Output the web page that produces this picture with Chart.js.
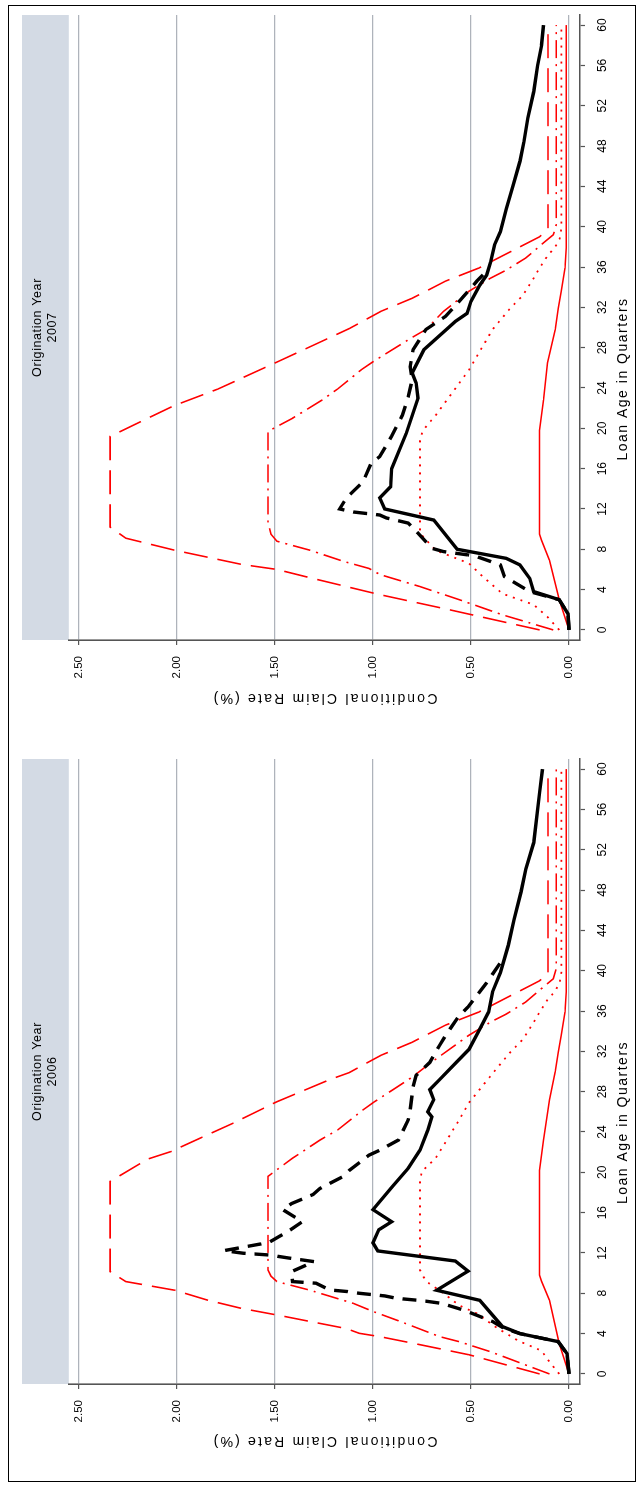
<!DOCTYPE html>
<html>
<head>
<meta charset="utf-8">
<script src="https://cdn.jsdelivr.net/npm/chart.js@4.4.1/dist/chart.umd.min.js"></script>
<style>
  html, body { margin: 0; padding: 0; background: #fff; }
  body { width: 644px; height: 1486px; overflow: hidden; position: relative; }
  #page {
    position: absolute; left: 0; top: 0;
    width: 1486px; height: 644px;
    transform-origin: 0 0;
    transform: translate(0px, 1486px) rotate(-90deg);
  }
  #frame {
    position: absolute; left: 4px; top: 8px; width: 1477px; height: 628px;
    border: 1.5px solid #000; box-sizing: border-box;
  }
  canvas { position: absolute; top: 0; }
</style>
</head>
<body>
<div id="page">
  <div id="frame"></div>
  <canvas id="chart2006" width="743" height="644" style="left:0px"></canvas>
  <canvas id="chart2007" width="743" height="644" style="left:743px"></canvas>
</div>
<script>
// loan age ticks (quarters) and claim-rate ticks (%)
const xTicks = [0, 4, 8, 12, 16, 20, 24, 28, 32, 36, 40, 44, 48, 52, 56, 60];
const yTicks = [0, 0.5, 1.0, 1.5, 2.0, 2.5];

// ---- Origination year 2006: [loan age, claim rate] ----
const actual2006 = [[0,0],[2,0.01],[3.2,0.055],[4,0.25],[4.5,0.33],[5.2,0.39],[6.35,0.54],[7,0.65],[7.27,0.75],[7.5,0.88],[7.74,0.94],[8,1.07],[8.17,1.13],[8.33,1.22],[9,1.29],[9.16,1.41],[10.15,1.415],[11.14,1.30],[11.5,1.43],[11.8,1.53],[11.97,1.66],[12.23,1.76],[12.9,1.57],[13.1,1.525],[14.3,1.42],[15.1,1.36],[16.3,1.46],[16.9,1.415],[17.8,1.305],[18.4,1.27],[19.6,1.15],[20.2,1.12],[21.7,1.02],[22.2,0.965],[23.2,0.87],[25.2,0.82],[26.2,0.81],[28.5,0.795],[29.6,0.78],[30.9,0.71],[32.6,0.66],[33.7,0.625],[35.4,0.565],[36.4,0.515],[38.8,0.42],[40.8,0.35]];
const base2006 = [[0,0],[2,0.01],[3.2,0.055],[4,0.25],[4.7,0.34],[7.3,0.455],[8.3,0.675],[10.2,0.515],[11.2,0.58],[12.2,0.975],[13,1.0],[14.3,0.97],[15.1,0.905],[16.3,1.0],[18.6,0.90],[20.4,0.82],[22.2,0.76],[24.2,0.72],[25.5,0.70],[26,0.72],[27.2,0.69],[28.2,0.71],[29.2,0.66],[30.9,0.575],[32.2,0.51],[34.2,0.455],[35.9,0.41],[37.9,0.39],[39.8,0.35],[42.5,0.31],[45.1,0.28],[47.8,0.245],[50.1,0.22],[52.7,0.18],[57.7,0.15],[60,0.135]];
const severe2006 = [[0,0.15],[1.9,0.51],[3.04,0.795],[3.7,0.965],[4.03,1.07],[4.5,1.135],[5.2,1.32],[5.85,1.49],[6.5,1.67],[7.3,1.84],[8.3,2.01],[9.16,2.26],[10.15,2.34],[19.1,2.34],[20.6,2.21],[21.3,2.15],[22.06,2.03],[23.4,1.88],[24.9,1.71],[27,1.49],[29.2,1.22],[29.9,1.12],[31.6,0.96],[32.9,0.80],[34.6,0.63],[35.9,0.46],[37.5,0.30],[39,0.15],[39.8,0.107],[60,0.107]];
const adverse2006 = [[0,0.1],[2.2,0.40],[3.2,0.56],[3.7,0.66],[5.2,0.86],[6.2,1.0],[7,1.1],[8.3,1.32],[9.16,1.49],[9.7,1.52],[10.3,1.535],[19.6,1.535],[21.4,1.41],[23.2,1.27],[24.2,1.18],[26.2,1.05],[26.9,1.0],[29.5,0.795],[30.8,0.71],[33.6,0.51],[34.9,0.40],[35.7,0.32],[36.9,0.22],[38.4,0.13],[39.2,0.08],[40.2,0.065],[60,0.065]];
const mild2006 = [[0,0.05],[1.2,0.1],[2.3,0.14],[3.3,0.26],[4.6,0.37],[6,0.47],[6.8,0.56],[8,0.64],[9.2,0.73],[10.3,0.76],[19.2,0.76],[20.1,0.75],[21.4,0.68],[25.2,0.56],[26.9,0.51],[29.8,0.39],[31.9,0.30],[33.2,0.235],[34.9,0.18],[35.9,0.15],[37.2,0.107],[37.9,0.073],[38.8,0.048],[39.8,0.039],[60,0.039]];
const low2006 = [[0,0],[3,0.05],[7.3,0.10],[9.2,0.14],[9.8,0.15],[20.2,0.15],[23.2,0.13],[27.2,0.10],[30,0.07],[31.9,0.055],[33.6,0.04],[35.9,0.02],[37.9,0.014],[60,0.014]];

// ---- Origination year 2007 ----
const actual2007 = [[0,0],[1.6,0.005],[3,0.05],[3.8,0.2],[5.3,0.33],[6.45,0.35],[7.27,0.47],[7.44,0.515],[7.77,0.64],[8.1,0.70],[9.6,0.77],[10.6,0.82],[11.1,0.93],[11.4,0.965],[11.7,1.10],[12,1.17],[13.1,1.135],[14.7,1.05],[16.5,1.01],[17.2,0.965],[19.2,0.905],[21.3,0.85],[23.1,0.82],[24.8,0.80],[26.1,0.81],[27.8,0.795],[29.8,0.73],[31.1,0.63],[32.6,0.56],[33.7,0.51],[34.6,0.47],[35.6,0.42]];
const base2007 = [[0,0],[1.6,0.005],[3,0.05],[3.8,0.18],[5.1,0.2],[6.45,0.25],[7.1,0.32],[8,0.57],[10.9,0.69],[12,0.94],[13.1,0.965],[14.2,0.91],[16,0.905],[19.5,0.83],[23,0.77],[24.5,0.78],[25.5,0.80],[27.8,0.74],[29.8,0.625],[30.6,0.58],[31.4,0.52],[32.6,0.50],[34.2,0.455],[35.2,0.42],[36.5,0.40],[38.2,0.38],[39.5,0.35],[41.8,0.32],[44.1,0.285],[46.5,0.25],[48.4,0.23],[50.8,0.21],[53.4,0.18],[56,0.16],[58,0.14],[60,0.13]];
const severe2007 = [[0,0.15],[2,0.61],[3.5,0.965],[5.1,1.305],[6,1.49],[6.5,1.67],[7.9,2.01],[9.1,2.26],[10.2,2.34],[19.2,2.34],[22.2,2.02],[23.9,1.79],[26.7,1.475],[29.9,1.12],[31.6,0.96],[32.9,0.80],[34.6,0.63],[35.9,0.46],[37.5,0.30],[39,0.15],[39.8,0.107],[60,0.107]];
const adverse2007 = [[0,0.08],[1.5,0.34],[3,0.56],[4.3,0.76],[5.5,0.965],[6.1,1.02],[6.8,1.15],[7.9,1.32],[8.8,1.49],[9.5,1.52],[10.6,1.535],[19.7,1.535],[21,1.41],[22.8,1.26],[23.9,1.18],[25.8,1.06],[26.6,1.0],[28.9,0.81],[29.8,0.73],[31.6,0.64],[33.6,0.51],[34.9,0.40],[35.7,0.32],[36.9,0.22],[38.4,0.13],[39.2,0.08],[40.2,0.065],[60,0.065]];
const mild2007 = [[0,0.05],[1.3,0.11],[2.5,0.18],[3.6,0.34],[5.3,0.44],[6.6,0.51],[7.9,0.68],[9.6,0.76],[18.8,0.76],[19.8,0.745],[21.3,0.68],[25.8,0.51],[29.8,0.39],[31.9,0.30],[33.2,0.235],[34.9,0.18],[35.9,0.15],[37.2,0.107],[37.9,0.073],[38.8,0.048],[39.8,0.039],[60,0.039]];
const low2007 = [[0,0],[3,0.05],[6.9,0.10],[8.9,0.14],[9.5,0.15],[19.8,0.15],[22.8,0.13],[26.5,0.11],[29.8,0.07],[31.9,0.055],[33.6,0.04],[35.9,0.02],[37.9,0.014],[60,0.014]];

const FONT = "'Liberation Sans', Arial, sans-serif";
const AXIS = '#555';

function pts(arr) {
  return arr.map(p => ({ x: p[0], y: p[1] }));
}

function line(arr, color, width, dash) {
  return {
    data: pts(arr),
    borderColor: color,
    borderWidth: width,
    borderDash: dash,
    pointRadius: 0,
    tension: 0,
    fill: false
  };
}

// grey strip behind the panel title
const stripPlugin = {
  id: 'strip',
  beforeDraw(chart) {
    const a = chart.chartArea, t = chart.titleBlock;
    if (!t) return;
    const ctx = chart.ctx;
    ctx.save();
    ctx.fillStyle = '#d3dae4';
    ctx.fillRect(a.left, t.top, a.right - a.left, t.bottom - t.top);
    ctx.restore();
  }
};

// the titles in the original are drawn a little letter-spaced
function withSpacing(obj, method, spacing) {
  const orig = obj[method];
  obj[method] = function () {
    const ctx = this.ctx;
    ctx.save();
    ctx.letterSpacing = spacing;
    orig.apply(this, arguments);
    ctx.restore();
  };
}

const spacingPlugin = {
  id: 'spacing',
  afterLayout(chart) {
    chart.boxes.forEach(box => {
      if (box._spaced) return;
      if (box.axis === 'y') {
        withSpacing(box, 'drawTitle', '2.2px');
      } else if (!box.axis && box.options && box.options.text) {
        withSpacing(box, 'draw', box.position === 'top' ? '0.6px' : '1.5px');
      } else {
        return;
      }
      box._spaced = true;
    });
  }
};

function makePanel(id, year, series, axisWidth, padRight) {
  const datasets = [
    line(series[0], '#000', 3.4, [14, 9]),
    line(series[1], '#000', 3.4, []),
    line(series[2], '#ff0000', 1.6, [24, 10]),
    line(series[3], '#ff0000', 1.6, [18, 6, 2, 6]),
    line(series[4], '#ff0000', 1.8, [2, 6]),
    line(series[5], '#ff0000', 1.5, [])
  ];

  return new Chart(document.getElementById(id), {
    type: 'line',
    data: { datasets: datasets },
    options: {
      responsive: false,
      animation: false,
      devicePixelRatio: 1,
      layout: { padding: { top: 22, right: padRight, bottom: 0, left: 0 } },
      plugins: {
        legend: { display: false },
        tooltip: { enabled: false },
        title: {
          display: true,
          text: ['Origination Year', year],
          fullSize: false,
          color: '#000',
          font: { family: FONT, size: 12.5, weight: 'normal', lineHeight: 1.2 },
          padding: { top: 8.4, bottom: 8.4 }
        },
        subtitle: {
          display: true,
          position: 'bottom',
          text: 'Loan Age in Quarters',
          color: '#000',
          font: { family: FONT, size: 14, weight: 'normal', lineHeight: 1.2 },
          padding: { top: 0, bottom: 12.6 }
        }
      },
      scales: {
        x: {
          type: 'linear',
          min: -1,
          max: 61,
          afterBuildTicks: s => { s.ticks = xTicks.map(v => ({ value: v })); },
          afterFit: s => { s.height = 34.6; },
          grid: { drawOnChartArea: false, tickLength: 5, tickColor: AXIS, tickWidth: 1.2 },
          border: { color: AXIS, width: 1.6 },
          ticks: {
            color: '#000', padding: 10, maxRotation: 0, autoSkip: false,
            font: { family: FONT, size: 12 }
          }
        },
        y: {
          type: 'linear',
          min: -0.056,
          max: 2.551,
          afterBuildTicks: s => { s.ticks = yTicks.map(v => ({ value: v })); },
          afterFit: s => { s.width = axisWidth; },
          grid: { color: '#aeb3bb', lineWidth: 1.2, tickLength: 5, tickColor: AXIS, tickWidth: 1.2 },
          border: { color: AXIS, width: 1.6 },
          ticks: {
            color: '#000', padding: 11,
            font: { family: FONT, size: 11.5 },
            callback: v => Number(v).toFixed(2)
          },
          title: {
            display: true,
            text: 'Conditional Claim Rate (%)',
            color: '#000',
            font: { family: FONT, size: 14, weight: 'normal', lineHeight: 1.2 },
            padding: { top: 36.6, bottom: 0 }
          }
        }
      }
    },
    plugins: [stripPlugin, spacingPlugin]
  });
}

makePanel('chart2006', '2006',
  [actual2006, base2006, severe2006, adverse2006, mild2006, low2006], 102, 16);
makePanel('chart2007', '2007',
  [actual2007, base2007, severe2007, adverse2007, mild2007, low2007], 103, 15);
</script>
</body>
</html>
